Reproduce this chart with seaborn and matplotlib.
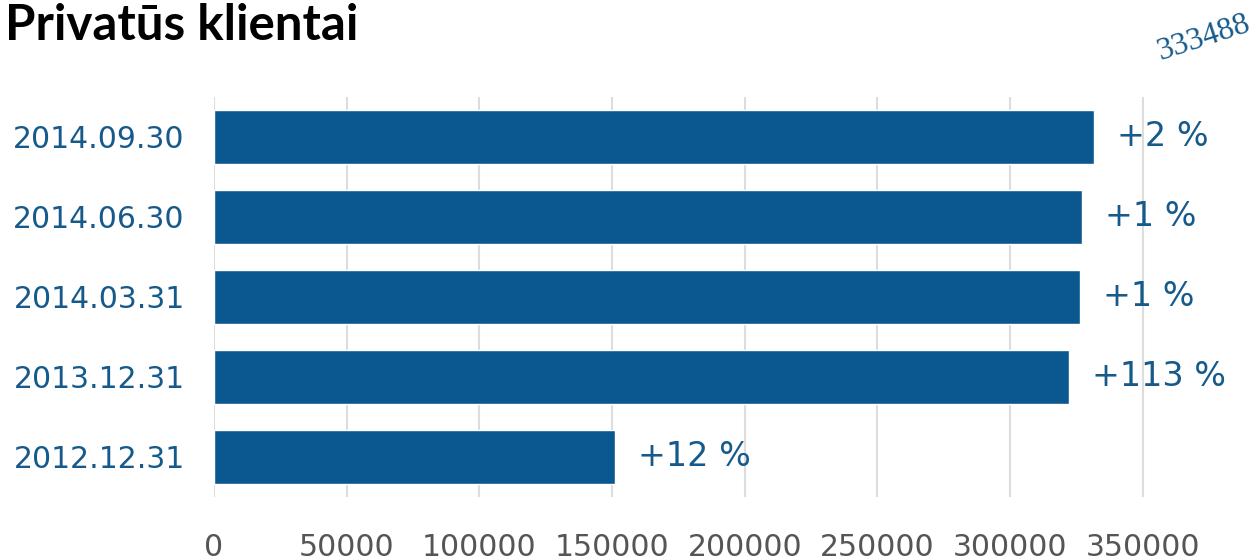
import matplotlib
matplotlib.use("Agg")
import matplotlib.pyplot as plt
import seaborn as sns
import pandas as pd

# values
dates = ["2014.09.30", "2014.06.30", "2014.03.31", "2013.12.31", "2012.12.31"]
clients = [331600, 327000, 326300, 322200, 151000]
changes = ["+2 %", "+1 %", "+1 %", "+113 %", "+12 %"]
x_ticks = [0, 50000, 100000, 150000, 200000, 250000, 300000, 350000]
total_label = "333488"

BAR_BLUE = "#0b5890"
TEXT_BLUE = "#155a8a"

df = pd.DataFrame({"date": dates, "clients": clients})

sns.set_theme(style="white")
plt.rcParams["font.family"] = ["DejaVu Sans"]

fig = plt.figure(figsize=(12.55, 5.6), dpi=100)
ax = fig.add_axes([214 / 1255, 1 - 497 / 560, (1249 - 214) / 1255, (497 - 97) / 560])

sns.barplot(data=df, x="clients", y="date", order=dates, orient="h",
            color=BAR_BLUE, saturation=1, width=0.68, ax=ax, zorder=3)

ax.set_xlim(0, 390000)
ax.set_ylim(len(dates) - 0.5, -0.5)
ax.set_xticks(x_ticks)
ax.set_xticklabels([str(t) for t in x_ticks])
ax.grid(axis="x", color="#dddddd", linewidth=1.5, zorder=0)
ax.grid(axis="y", visible=False)
for s in ax.spines.values():
    s.set_visible(False)

ax.set_xlabel("")
ax.set_ylabel("")
ax.tick_params(axis="x", length=0, pad=26, labelsize=21.5, labelcolor="#555555")
ax.tick_params(axis="y", length=0, pad=21, labelsize=21.5, labelcolor=TEXT_BLUE)

# percentage change next to each bar
for i, (v, lab) in enumerate(zip(clients, changes)):
    ax.annotate(lab, xy=(v, i), xytext=(16.5, 0), textcoords="offset points",
                ha="left", va="center", fontsize=24, color=TEXT_BLUE)

fig.text(5 / 1255, 1 - 40 / 560, "Privatūs klientai", fontsize=35.5,
         fontweight="bold", family="Lato", color="black", va="baseline", ha="left")
fig.text(1204 / 1255, 1 - 38 / 560, total_label, fontsize=23, rotation=18,
         family="Liberation Serif", color=TEXT_BLUE, ha="center", va="center")

fig.savefig("out.png", dpi=100)
